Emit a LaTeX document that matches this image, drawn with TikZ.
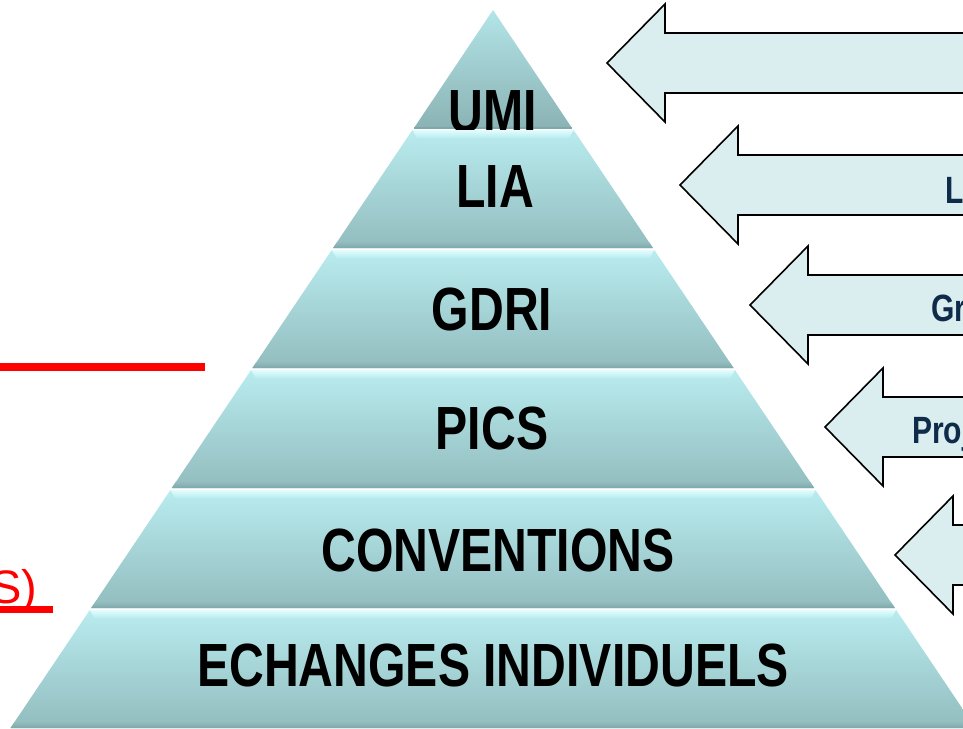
\documentclass[tikz,border=0pt]{standalone}
\usepackage{fontspec}
\setmainfont{Liberation Sans}
\newfontfamily\narrowfont[FakeStretch=0.79]{Liberation Sans}
\usepackage{tikz}

\definecolor{bandtop}{HTML}{B9ECEF}
\definecolor{bandbot}{HTML}{92BCBE}
\definecolor{bandlight}{HTML}{E2FCFE}
\definecolor{banddark}{HTML}{7FA7A9}
\definecolor{arrowfill}{HTML}{DAEDEF}
\definecolor{arrowtextcol}{HTML}{0E2B4A}

\begin{document}
\begin{tikzpicture}[x=1pt,y=-1pt]
			\tikzset{level/.style={font=\narrowfont\bfseries\fontsize{61}{61}\selectfont, inner sep=0pt}}
			\tikzset{band/.style={top color=bandtop, bottom color=bandbot}}
			\tikzset{bigarrow/.style={draw=black, line width=1.6pt, fill=arrowfill, line join=miter}}
			\tikzset{arrowtext/.style={font=\narrowfont\bfseries\fontsize{38}{38}\selectfont, text=arrowtextcol, anchor=base west, inner sep=0pt}}
			\useasboundingbox (0,0) rectangle (963,728);
			\clip (0,0) rectangle (963,728);
			%top of the pyramid
			\shade[top color=bandtop!85!bandbot, bottom color=bandbot!95!black] (493,10) -- (572,128) -- (414,128) -- cycle;
			\draw[banddark, line width=2pt] (414,128) -- (572,128);
			\node[level] (umi) at (493,112) {UMI};
			%levels
			\foreach \t/\b in {130/248, 250/368, 370/488, 490/608, 610/728} {
				\pgfmathsetmacro{\lt}{493-0.672*(\t-10)}
				\pgfmathsetmacro{\rt}{493+0.672*(\t-10)}
				\pgfmathsetmacro{\lb}{493-0.672*(\b-10)}
				\pgfmathsetmacro{\rb}{493+0.672*(\b-10)}
				\shade[band] (\lt,\t) -- (\rt,\t) -- (\rb,\b) -- (\lb,\b) -- cycle;
				\shade[top color=bandlight, bottom color=bandtop] (\lt,\t) -- (\rt,\t) -- (\rt+0.672*8-10,\t+8) -- (\lt-0.672*8+10,\t+8) -- cycle;
				\shade[top color=bandbot, bottom color=banddark] (\lb+0.672*6,\b-6) -- (\rb-0.672*6,\b-6) -- (\rb,\b) -- (\lb,\b) -- cycle;
			}
			\node[level] (lia) at (495,187) {LIA};
			\node[level] (gdri) at (492,309) {GDRI};
			\node[level] (pics) at (492,428) {PICS};
			\node[level] (conv) at (498,550) {CONVENTIONS};
			\node[level] (ech) at (493,665) {ECHANGES INDIVIDUELS};
			%arrows
			\foreach \tx/\ty in {607/63, 680/185, 750/305, 825/427, 895/555} {
				\draw[bigarrow] (\tx,\ty) -- (\tx+58,\ty-59) -- (\tx+58,\ty-30) -- (1000,\ty-30)
					-- (1000,\ty+30) -- (\tx+58,\ty+30) -- (\tx+58,\ty+59) -- cycle;
			}
			\node[arrowtext] (liatxt) at (945,203) {L};
			\node[arrowtext] (gdritxt) at (931,321) {Gr};
			\node[arrowtext] (picstxt) at (912,443) {Proj};
			%left side
			\coordinate (redl) at (0,367);
			\coordinate (redr) at (205,367);
			\draw[red, line width=8pt] (redl) -- (redr);
			\node[font=\fontsize{47}{47}\selectfont, text=red, anchor=base west, inner sep=0pt] (redtxt) at (-10,603) {S)};
			\coordinate (ulr) at (53,609);
			\draw[red, line width=7pt] (redtxt.south west |- ulr) -- (ulr);
		\end{tikzpicture}
\end{document}
